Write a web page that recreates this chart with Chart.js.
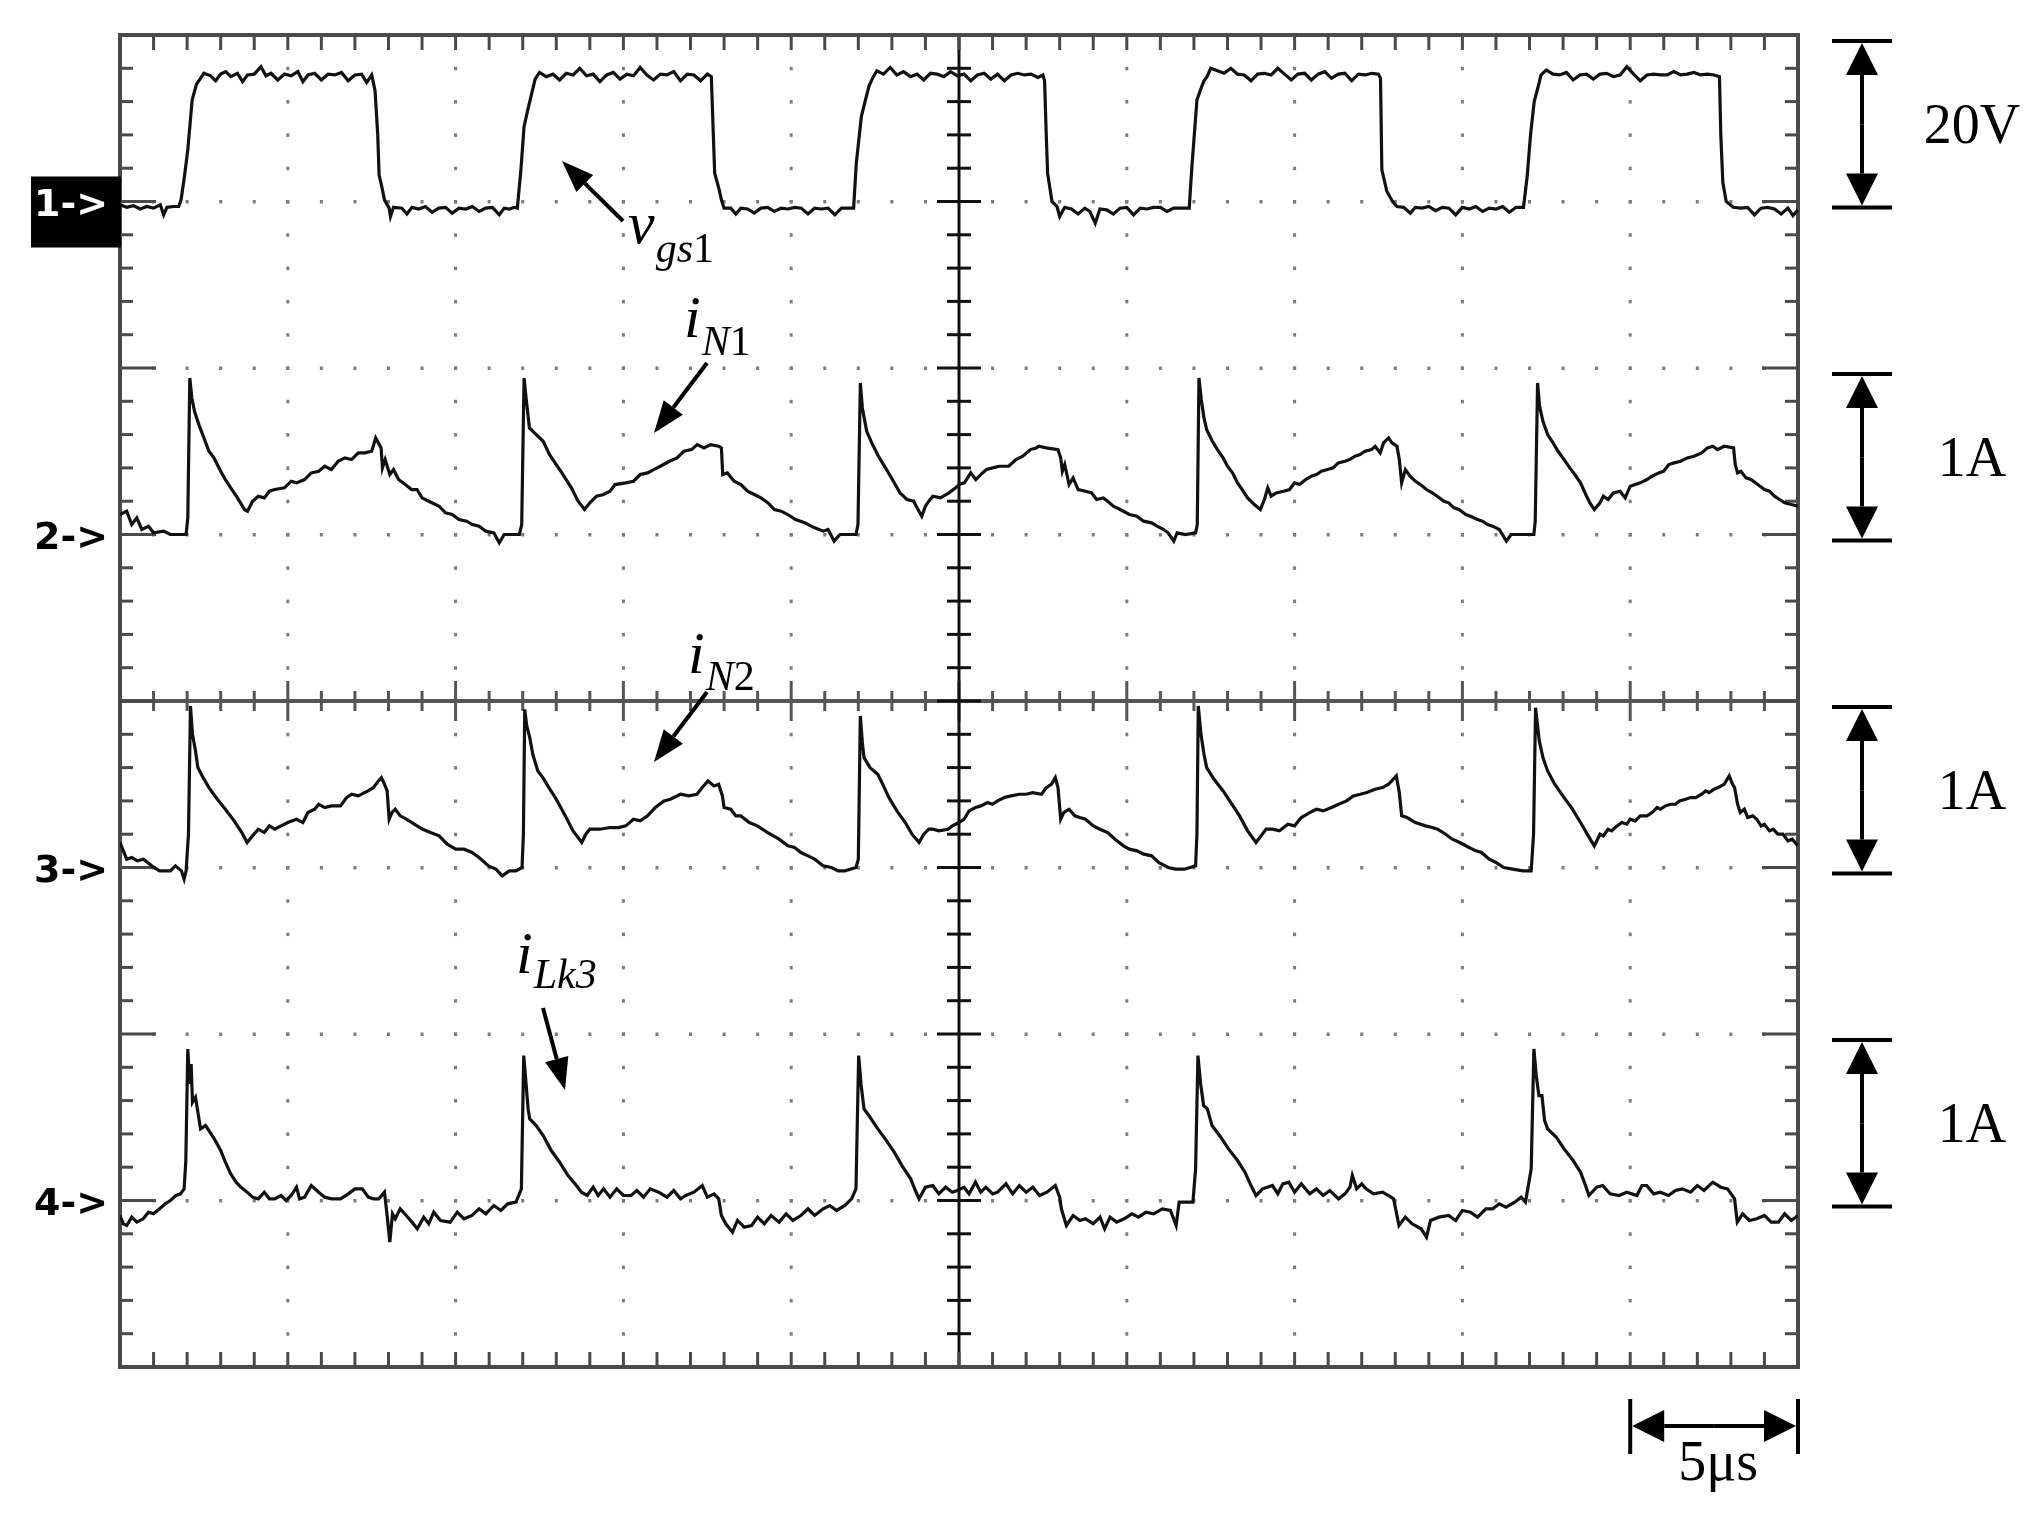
<!DOCTYPE html>
<html><head><meta charset="utf-8">
<script src="https://cdn.jsdelivr.net/npm/chart.js@4/dist/chart.umd.min.js"></script>
<style>html,body{margin:0;padding:0;background:#fff;}#wrap{width:2037px;height:1521px;position:relative;background:#fff}</style>
</head><body><div id="wrap"><canvas id="c" width="2037" height="1521"></canvas></div>
<script>
// time in microseconds (5 us/div, 10 divisions)
const timeTicks = [0,5,10,15,20,25,30,35,40,45,50];
const channelNames = ['1->','2->','3->','4->'];
const channelScales = ['20V','1A','1A','1A'];
const traceLabels = ['v','gs1','i','N1','i','N2','i','Lk3'];

// ch1: v_gs1 [t(us), V]
const ch1 = [
[0,-0.4],[0.2,-0.7],[0.4,-0.5],[0.6,-0.9],[0.8,-0.6],[1.0,-0.8],[1.2,-0.4],[1.3,-1.6],[1.4,-0.7],[1.6,-0.6],[1.75,-0.6],[1.82,0.2],[1.92,3.0],[2.02,6.2],[2.15,12.2],[2.28,14.1],[2.4,14.8],[2.5,15.4],[2.7,15.1],[2.85,14.5],[3.0,15.3],[3.15,15.6],[3.3,15.0],[3.5,15.4],[3.65,14.4],[3.8,15.2],[4.0,15.3],[4.2,16.2],[4.35,15.1],[4.5,15.4],[4.7,14.6],[4.9,15.3],[5.1,15.1],[5.3,15.6],[5.45,14.4],[5.6,15.2],[5.8,15.4],[6.0,14.6],[6.2,15.3],[6.4,15.2],[6.6,15.5],[6.8,14.5],[7.0,15.2],[7.2,15.3],[7.35,14.3],[7.5,15.2],[7.6,13.3],[7.68,8.0],[7.72,3.2],[7.8,1.8],[7.88,0.2],[8.02,-0.8],[8.06,-1.8],[8.15,-0.7],[8.4,-0.8],[8.55,-1.5],[8.7,-0.7],[8.9,-0.9],[9.1,-0.6],[9.3,-1.3],[9.5,-0.8],[9.7,-0.7],[9.9,-1.4],[10.1,-0.8],[10.3,-0.9],[10.5,-0.6],[10.7,-1.2],[10.9,-0.8],[11.1,-0.7],[11.3,-1.6],[11.45,-0.8],[11.6,-0.9],[11.75,-0.7],[11.84,-0.8],[11.95,4.0],[12.04,9.0],[12.15,11.0],[12.24,12.5],[12.37,14.7],[12.5,15.5],[12.7,15.0],[12.9,15.3],[13.1,14.6],[13.3,15.4],[13.5,15.2],[13.7,16.0],[13.9,15.1],[14.1,15.3],[14.3,14.4],[14.5,15.2],[14.7,15.5],[14.9,14.7],[15.1,15.3],[15.3,15.1],[15.5,16.1],[15.7,15.2],[15.9,14.6],[16.1,15.3],[16.3,15.2],[16.5,15.6],[16.7,14.5],[16.9,15.3],[17.1,15.2],[17.3,14.5],[17.5,15.3],[17.62,15.0],[17.68,8.0],[17.72,3.4],[17.85,1.5],[17.92,0.2],[18.0,-0.8],[18.2,-0.8],[18.35,-1.5],[18.5,-0.8],[18.7,-0.9],[18.9,-1.4],[19.1,-0.8],[19.3,-0.7],[19.5,-1.2],[19.7,-0.8],[19.9,-0.9],[20.1,-0.7],[20.3,-0.8],[20.5,-1.5],[20.7,-0.8],[20.9,-0.9],[21.1,-0.8],[21.3,-1.6],[21.5,-0.8],[21.7,-0.8],[21.86,-0.8],[21.94,4.6],[22.09,10.2],[22.2,12.0],[22.32,13.9],[22.45,15.0],[22.55,15.7],[22.75,15.3],[22.95,16.1],[23.15,15.2],[23.35,15.6],[23.55,15.0],[23.75,15.3],[23.95,14.6],[24.15,15.4],[24.35,15.3],[24.55,15.0],[24.75,15.6],[24.95,15.1],[25.15,15.3],[25.35,14.5],[25.55,15.2],[25.75,15.4],[25.95,14.7],[26.15,15.3],[26.35,14.5],[26.55,15.2],[26.75,15.4],[26.95,15.2],[27.15,15.3],[27.35,14.9],[27.5,15.2],[27.55,14.5],[27.6,8.0],[27.64,3.4],[27.77,0.0],[27.92,-0.6],[28.0,-1.8],[28.15,-0.7],[28.35,-0.9],[28.55,-1.5],[28.75,-0.8],[28.9,-1.2],[29.06,-2.6],[29.2,-0.9],[29.4,-1.0],[29.6,-1.5],[29.8,-0.8],[30.0,-0.7],[30.2,-1.6],[30.4,-0.8],[30.6,-0.9],[30.8,-0.7],[31.0,-0.7],[31.2,-1.2],[31.4,-0.8],[31.6,-0.8],[31.86,-0.8],[31.94,4.2],[32.09,12.2],[32.24,13.9],[32.3,14.5],[32.39,15.0],[32.5,16.0],[32.7,15.7],[32.9,15.4],[33.1,16.0],[33.3,15.3],[33.5,15.2],[33.7,14.5],[33.9,15.3],[34.1,15.4],[34.3,15.2],[34.5,16.0],[34.7,15.3],[34.9,14.6],[35.1,15.3],[35.3,15.4],[35.5,14.6],[35.7,15.3],[35.9,15.6],[36.1,14.8],[36.3,15.3],[36.5,15.4],[36.7,14.5],[36.9,15.3],[37.1,15.2],[37.3,15.4],[37.5,15.3],[37.56,14.8],[37.6,3.8],[37.75,1.2],[37.92,0.0],[38.05,-0.6],[38.25,-0.7],[38.45,-1.4],[38.6,-0.7],[38.8,-0.8],[39.0,-0.6],[39.2,-1.1],[39.4,-0.7],[39.6,-0.8],[39.8,-1.6],[40.0,-0.7],[40.2,-0.9],[40.4,-0.6],[40.6,-1.2],[40.8,-0.8],[41.0,-0.9],[41.2,-0.6],[41.4,-1.3],[41.6,-0.7],[41.82,-0.7],[41.93,3.0],[42.03,8.0],[42.14,12.0],[42.29,14.3],[42.34,15.2],[42.5,15.8],[42.7,15.3],[42.9,15.2],[43.1,15.5],[43.3,14.6],[43.5,15.2],[43.7,15.3],[43.9,14.7],[44.1,15.3],[44.3,15.4],[44.5,15.0],[44.7,15.2],[44.9,16.2],[45.1,15.3],[45.3,14.5],[45.5,15.2],[45.7,15.3],[45.9,15.2],[46.1,15.2],[46.3,15.6],[46.5,15.2],[46.7,15.3],[46.9,15.5],[47.1,15.2],[47.3,15.3],[47.5,15.2],[47.66,15.0],[47.7,8.0],[47.76,2.3],[47.86,0.0],[48.07,-0.7],[48.3,-0.8],[48.5,-0.7],[48.7,-1.6],[48.9,-0.8],[49.1,-0.7],[49.3,-0.9],[49.5,-1.5],[49.7,-0.8],[49.85,-1.7],[50,-1.0]
];

// ch2: i_N1 [t(us), A]
const ch2 = [
[0,0.12],[0.2,0.14],[0.35,0.06],[0.5,0.1],[0.65,0.03],[0.85,0.05],[1.0,0.01],[1.3,0.02],[1.5,0],[1.97,0],[2.02,0.1],[2.08,0.94],[2.14,0.82],[2.22,0.74],[2.35,0.66],[2.5,0.58],[2.65,0.5],[2.8,0.46],[3.0,0.38],[3.14,0.33],[3.3,0.28],[3.5,0.22],[3.71,0.15],[3.8,0.14],[3.95,0.2],[4.12,0.23],[4.3,0.22],[4.45,0.26],[4.61,0.27],[4.9,0.28],[5.1,0.32],[5.26,0.31],[5.5,0.33],[5.7,0.37],[5.92,0.38],[6.1,0.41],[6.3,0.39],[6.5,0.44],[6.7,0.46],[6.9,0.45],[7.1,0.49],[7.3,0.49],[7.5,0.5],[7.62,0.58],[7.7,0.55],[7.78,0.52],[7.82,0.4],[7.9,0.45],[8.04,0.36],[8.15,0.39],[8.3,0.33],[8.5,0.3],[8.69,0.27],[8.85,0.27],[9.0,0.22],[9.2,0.2],[9.51,0.17],[9.7,0.13],[9.9,0.12],[10.1,0.09],[10.33,0.08],[10.5,0.06],[10.7,0.05],[10.9,0.02],[11.14,0.01],[11.3,-0.05],[11.45,0.0],[11.9,0.0],[11.97,0.06],[12.04,0.94],[12.1,0.82],[12.2,0.64],[12.35,0.61],[12.61,0.56],[12.8,0.48],[13.0,0.42],[13.2,0.36],[13.45,0.28],[13.65,0.2],[13.84,0.15],[14.0,0.19],[14.2,0.23],[14.41,0.24],[14.6,0.26],[14.75,0.3],[15.07,0.31],[15.3,0.32],[15.5,0.36],[15.72,0.37],[15.9,0.39],[16.1,0.41],[16.37,0.44],[16.6,0.46],[16.8,0.5],[17.03,0.51],[17.2,0.54],[17.4,0.52],[17.6,0.54],[17.84,0.53],[17.92,0.52],[17.96,0.36],[18.1,0.37],[18.3,0.32],[18.5,0.3],[18.7,0.26],[18.9,0.24],[19.1,0.22],[19.31,0.19],[19.5,0.15],[19.7,0.14],[19.9,0.12],[20.13,0.09],[20.4,0.07],[20.7,0.04],[20.95,0.02],[21.1,0.03],[21.28,-0.04],[21.45,0.0],[21.93,0.0],[21.99,0.06],[22.06,0.91],[22.12,0.76],[22.25,0.62],[22.4,0.55],[22.6,0.47],[22.75,0.42],[22.9,0.37],[23.1,0.3],[23.24,0.25],[23.45,0.21],[23.65,0.2],[23.75,0.16],[23.89,0.11],[24.0,0.17],[24.1,0.2],[24.22,0.23],[24.45,0.22],[24.7,0.25],[24.9,0.28],[25.0,0.3],[25.16,0.31],[25.35,0.37],[25.5,0.33],[25.7,0.37],[25.82,0.39],[26.0,0.4],[26.2,0.41],[26.48,0.41],[26.7,0.45],[26.9,0.47],[27.13,0.51],[27.3,0.52],[27.38,0.53],[27.6,0.52],[27.95,0.51],[28.03,0.46],[28.08,0.38],[28.15,0.42],[28.28,0.3],[28.4,0.34],[28.55,0.27],[28.77,0.26],[28.95,0.25],[29.1,0.21],[29.3,0.22],[29.43,0.2],[29.6,0.17],[29.8,0.15],[30.08,0.12],[30.3,0.11],[30.5,0.08],[30.74,0.07],[30.9,0.05],[31.1,0.03],[31.23,0.01],[31.4,-0.04],[31.5,0.01],[31.75,0.0],[32.05,0.01],[32.1,0.06],[32.15,0.94],[32.22,0.81],[32.3,0.7],[32.38,0.63],[32.55,0.56],[32.7,0.51],[32.87,0.46],[33.0,0.41],[33.15,0.37],[33.3,0.31],[33.44,0.27],[33.6,0.22],[33.8,0.18],[33.98,0.15],[34.1,0.21],[34.2,0.28],[34.3,0.23],[34.45,0.25],[34.67,0.26],[34.85,0.27],[35.0,0.31],[35.15,0.3],[35.33,0.33],[35.5,0.35],[35.65,0.36],[35.8,0.38],[35.98,0.39],[36.15,0.4],[36.3,0.43],[36.5,0.44],[36.64,0.45],[36.8,0.47],[36.95,0.48],[37.1,0.5],[37.29,0.51],[37.4,0.53],[37.55,0.49],[37.65,0.55],[37.8,0.58],[37.9,0.55],[38.05,0.53],[38.12,0.45],[38.19,0.31],[38.3,0.39],[38.44,0.35],[38.6,0.32],[38.75,0.3],[38.93,0.27],[39.1,0.25],[39.25,0.23],[39.45,0.2],[39.59,0.19],[39.75,0.16],[39.9,0.15],[40.1,0.12],[40.24,0.11],[40.45,0.09],[40.6,0.08],[40.75,0.06],[40.9,0.05],[41.1,0.03],[41.31,-0.04],[41.45,0.0],[41.8,0.0],[42.13,0.0],[42.17,0.08],[42.24,0.91],[42.3,0.77],[42.4,0.68],[42.54,0.6],[42.7,0.55],[42.85,0.5],[43.03,0.45],[43.2,0.4],[43.35,0.36],[43.52,0.31],[43.7,0.23],[43.8,0.19],[43.93,0.15],[44.1,0.19],[44.2,0.23],[44.34,0.21],[44.5,0.25],[44.7,0.26],[44.85,0.22],[45.0,0.29],[45.15,0.3],[45.3,0.31],[45.5,0.33],[45.65,0.35],[45.85,0.37],[46.0,0.38],[46.15,0.42],[46.31,0.43],[46.5,0.44],[46.7,0.46],[46.9,0.47],[47.13,0.49],[47.3,0.52],[47.46,0.53],[47.6,0.51],[47.8,0.53],[48.08,0.52],[48.13,0.42],[48.2,0.37],[48.3,0.38],[48.45,0.34],[48.6,0.33],[48.8,0.3],[49.0,0.27],[49.15,0.26],[49.3,0.23],[49.45,0.21],[49.6,0.19],[49.8,0.18],[50,0.17]
];

// ch3: i_N2 [t(us), A]
const ch3 = [
[0,0.15],[0.1,0.1],[0.2,0.05],[0.35,0.06],[0.52,0.04],[0.7,0.05],[1.01,0.0],[1.18,-0.02],[1.5,-0.02],[1.65,0.01],[1.83,-0.02],[1.91,-0.07],[1.97,-0.02],[2.04,0.2],[2.1,0.97],[2.16,0.8],[2.25,0.7],[2.32,0.6],[2.45,0.55],[2.65,0.48],[2.9,0.41],[3.14,0.35],[3.4,0.28],[3.63,0.21],[3.79,0.15],[3.95,0.19],[4.12,0.23],[4.3,0.21],[4.45,0.25],[4.61,0.23],[4.8,0.25],[5.0,0.27],[5.26,0.29],[5.45,0.27],[5.6,0.33],[5.8,0.35],[5.92,0.38],[6.1,0.36],[6.3,0.37],[6.57,0.37],[6.75,0.42],[6.9,0.44],[7.1,0.43],[7.39,0.46],[7.55,0.48],[7.7,0.52],[7.79,0.54],[7.88,0.5],[7.96,0.46],[8.02,0.29],[8.1,0.33],[8.2,0.35],[8.35,0.31],[8.53,0.29],[8.7,0.27],[8.85,0.25],[9.02,0.23],[9.25,0.21],[9.51,0.19],[9.75,0.14],[10.0,0.11],[10.25,0.11],[10.49,0.09],[10.7,0.06],[10.98,0.01],[11.2,-0.01],[11.39,-0.05],[11.6,-0.02],[11.8,-0.02],[11.98,0.0],[12.02,0.2],[12.06,0.95],[12.12,0.85],[12.21,0.78],[12.3,0.68],[12.45,0.58],[12.6,0.54],[12.78,0.48],[13.0,0.41],[13.27,0.31],[13.5,0.22],[13.76,0.15],[13.88,0.2],[14.0,0.23],[14.3,0.23],[14.6,0.24],[14.85,0.24],[15.07,0.25],[15.3,0.29],[15.5,0.28],[15.72,0.31],[15.95,0.36],[16.21,0.4],[16.4,0.41],[16.7,0.44],[16.95,0.43],[17.19,0.44],[17.35,0.48],[17.52,0.52],[17.7,0.49],[17.84,0.5],[17.95,0.43],[18.0,0.36],[18.2,0.35],[18.35,0.31],[18.5,0.31],[18.75,0.27],[18.99,0.25],[19.3,0.21],[19.64,0.17],[19.9,0.13],[20.1,0.12],[20.29,0.09],[20.5,0.07],[20.7,0.05],[20.95,0.01],[21.2,0.0],[21.4,-0.02],[21.6,-0.02],[21.93,0.0],[22.0,0.05],[22.06,0.91],[22.12,0.75],[22.17,0.66],[22.35,0.6],[22.58,0.56],[22.75,0.49],[22.91,0.42],[23.15,0.34],[23.4,0.27],[23.6,0.2],[23.81,0.15],[23.95,0.2],[24.1,0.23],[24.22,0.23],[24.4,0.22],[24.67,0.23],[24.8,0.25],[25.0,0.27],[25.15,0.29],[25.3,0.34],[25.49,0.36],[25.65,0.37],[25.85,0.39],[26.0,0.38],[26.15,0.4],[26.35,0.42],[26.55,0.43],[26.8,0.44],[27.0,0.44],[27.2,0.45],[27.46,0.44],[27.6,0.48],[27.75,0.5],[27.87,0.54],[27.95,0.48],[28.03,0.29],[28.12,0.33],[28.28,0.35],[28.45,0.31],[28.6,0.3],[28.77,0.29],[29.0,0.25],[29.2,0.23],[29.43,0.21],[29.65,0.17],[29.9,0.13],[30.08,0.11],[30.3,0.1],[30.5,0.08],[30.74,0.07],[30.95,0.03],[31.23,0.0],[31.45,-0.01],[31.72,-0.01],[32.05,0.01],[32.09,0.2],[32.13,0.97],[32.21,0.8],[32.3,0.68],[32.38,0.6],[32.6,0.53],[32.87,0.46],[33.1,0.39],[33.36,0.31],[33.6,0.22],[33.85,0.15],[34.0,0.19],[34.15,0.23],[34.34,0.23],[34.55,0.22],[34.8,0.26],[35.0,0.25],[35.2,0.3],[35.45,0.33],[35.65,0.35],[35.85,0.34],[36.1,0.36],[36.31,0.38],[36.55,0.4],[36.75,0.43],[36.96,0.44],[37.15,0.45],[37.4,0.47],[37.62,0.48],[37.8,0.5],[38.03,0.55],[38.12,0.45],[38.19,0.31],[38.35,0.3],[38.6,0.27],[38.9,0.25],[39.1,0.24],[39.26,0.23],[39.5,0.2],[39.7,0.17],[39.92,0.15],[40.2,0.12],[40.4,0.1],[40.57,0.09],[40.8,0.05],[41.0,0.03],[41.23,0.0],[41.5,-0.01],[41.8,-0.02],[42.05,-0.02],[42.12,0.2],[42.18,0.96],[42.24,0.85],[42.29,0.76],[42.4,0.66],[42.54,0.58],[42.75,0.5],[43.03,0.42],[43.25,0.36],[43.52,0.27],[43.75,0.19],[43.93,0.13],[44.1,0.2],[44.2,0.19],[44.34,0.23],[44.45,0.22],[44.55,0.24],[44.75,0.27],[44.9,0.26],[45.0,0.29],[45.15,0.28],[45.3,0.31],[45.5,0.31],[45.65,0.33],[45.8,0.36],[45.9,0.35],[46.05,0.37],[46.2,0.38],[46.35,0.38],[46.47,0.4],[46.65,0.41],[46.8,0.42],[46.95,0.42],[47.13,0.44],[47.25,0.46],[47.35,0.45],[47.5,0.47],[47.62,0.48],[47.8,0.5],[47.95,0.55],[48.05,0.5],[48.11,0.48],[48.2,0.38],[48.28,0.33],[48.4,0.35],[48.5,0.3],[48.65,0.31],[48.77,0.29],[48.9,0.25],[49.0,0.26],[49.15,0.22],[49.26,0.23],[49.4,0.2],[49.55,0.2],[49.7,0.16],[49.83,0.17],[50,0.13]
];

// ch4: i_Lk3 [t(us), A]
const ch4 = [
[0,-0.09],[0.1,-0.14],[0.2,-0.15],[0.35,-0.1],[0.5,-0.13],[0.69,-0.11],[0.85,-0.07],[1.0,-0.08],[1.18,-0.05],[1.35,-0.02],[1.5,0.0],[1.67,0.03],[1.8,0.04],[1.91,0.07],[1.96,0.23],[2.02,0.91],[2.08,0.7],[2.12,0.82],[2.16,0.59],[2.25,0.62],[2.4,0.43],[2.55,0.45],[2.81,0.37],[3.0,0.3],[3.14,0.23],[3.3,0.16],[3.46,0.11],[3.6,0.08],[3.79,0.05],[3.95,0.02],[4.12,0.01],[4.3,0.05],[4.45,0.01],[4.61,0.01],[4.8,0.03],[4.95,0.0],[5.1,0.03],[5.26,0.08],[5.35,0.01],[5.5,0.02],[5.7,0.09],[5.92,0.05],[6.1,0.02],[6.3,0.01],[6.57,0.01],[6.8,0.04],[7.0,0.07],[7.22,0.07],[7.4,0.02],[7.55,0.01],[7.71,0.01],[7.88,0.05],[7.96,-0.09],[8.04,-0.25],[8.12,-0.08],[8.2,-0.11],[8.35,-0.05],[8.53,-0.09],[8.7,-0.13],[8.86,-0.17],[9.05,-0.1],[9.2,-0.14],[9.35,-0.07],[9.55,-0.12],[9.84,-0.13],[10.05,-0.07],[10.25,-0.11],[10.49,-0.09],[10.7,-0.05],[10.9,-0.08],[11.14,-0.03],[11.35,-0.06],[11.55,-0.02],[11.8,-0.01],[11.96,0.07],[12.03,0.87],[12.1,0.7],[12.16,0.55],[12.21,0.49],[12.4,0.45],[12.61,0.39],[12.85,0.3],[13.1,0.23],[13.35,0.15],[13.6,0.09],[13.75,0.05],[13.92,0.03],[14.1,0.08],[14.25,0.03],[14.41,0.07],[14.6,0.02],[14.8,0.07],[15.0,0.03],[15.23,0.03],[15.4,0.06],[15.6,0.02],[15.8,0.07],[16.05,0.05],[16.3,0.02],[16.5,0.06],[16.7,0.01],[16.86,0.03],[17.1,0.05],[17.35,0.09],[17.5,0.02],[17.7,0.04],[17.84,0.01],[17.92,-0.09],[18.05,-0.14],[18.25,-0.19],[18.4,-0.12],[18.6,-0.16],[18.82,-0.15],[19.0,-0.1],[19.2,-0.14],[19.4,-0.09],[19.64,-0.13],[19.85,-0.08],[20.05,-0.12],[20.29,-0.09],[20.5,-0.05],[20.7,-0.09],[20.95,-0.05],[21.15,-0.03],[21.35,-0.06],[21.6,-0.03],[21.8,0.01],[21.93,0.07],[22.01,0.87],[22.08,0.7],[22.17,0.55],[22.35,0.5],[22.58,0.43],[22.8,0.37],[23.07,0.29],[23.3,0.21],[23.56,0.13],[23.7,0.06],[23.81,0.01],[24.0,0.08],[24.22,0.09],[24.4,0.04],[24.6,0.08],[24.8,0.05],[24.95,0.06],[25.15,0.08],[25.3,0.04],[25.49,0.11],[25.65,0.05],[25.8,0.08],[26.0,0.04],[26.15,0.05],[26.4,0.1],[26.6,0.04],[26.8,0.09],[27.0,0.05],[27.2,0.08],[27.4,0.03],[27.62,0.05],[27.87,0.09],[28.0,0.02],[28.05,-0.05],[28.2,-0.15],[28.4,-0.09],[28.6,-0.12],[28.77,-0.11],[29.0,-0.14],[29.2,-0.1],[29.34,-0.17],[29.5,-0.1],[29.7,-0.13],[29.92,-0.11],[30.15,-0.08],[30.35,-0.1],[30.57,-0.07],[30.8,-0.08],[31.06,-0.05],[31.3,-0.06],[31.47,-0.15],[31.56,-0.01],[31.97,-0.01],[32.05,0.19],[32.12,0.87],[32.2,0.7],[32.29,0.57],[32.4,0.55],[32.54,0.45],[32.8,0.38],[33.03,0.31],[33.3,0.24],[33.52,0.17],[33.7,0.09],[33.85,0.03],[34.05,0.07],[34.34,0.09],[34.5,0.04],[34.65,0.1],[34.83,0.11],[35.0,0.05],[35.2,0.1],[35.45,0.04],[35.65,0.07],[35.85,0.03],[36.05,0.06],[36.31,0.01],[36.5,0.04],[36.65,0.08],[36.72,0.15],[36.85,0.07],[37.0,0.1],[37.13,0.07],[37.35,0.04],[37.62,0.05],[37.8,0.03],[37.95,0.01],[38.11,-0.15],[38.3,-0.1],[38.5,-0.14],[38.77,-0.17],[38.93,-0.22],[39.05,-0.12],[39.3,-0.1],[39.59,-0.09],[39.8,-0.12],[40.0,-0.06],[40.24,-0.07],[40.45,-0.1],[40.7,-0.05],[40.9,-0.05],[41.1,-0.02],[41.3,-0.04],[41.56,-0.01],[41.75,0.02],[41.88,-0.01],[42.05,0.19],[42.13,0.91],[42.2,0.75],[42.28,0.63],[42.37,0.63],[42.45,0.48],[42.54,0.43],[42.8,0.38],[43.03,0.31],[43.3,0.24],[43.52,0.17],[43.65,0.1],[43.77,0.03],[44.0,0.08],[44.18,0.09],[44.4,0.04],[44.67,0.03],[44.9,0.05],[45.2,0.03],[45.35,0.09],[45.49,0.09],[45.7,0.04],[45.9,0.05],[46.14,0.03],[46.35,0.06],[46.55,0.07],[46.8,0.05],[47.0,0.09],[47.2,0.06],[47.46,0.11],[47.7,0.08],[47.9,0.07],[48.11,0.01],[48.19,-0.13],[48.35,-0.08],[48.55,-0.12],[48.77,-0.11],[49.0,-0.09],[49.2,-0.13],[49.42,-0.13],[49.6,-0.08],[49.8,-0.12],[50,-0.09]
];

const SERIF = "'Liberation Serif', 'Times New Roman', 'DejaVu Serif', serif";

function mk(pairs, axis){
  return {data: pairs.map(p => ({x:p[0], y:p[1]})), yAxisID: axis, borderColor:'#111',
    borderWidth:3.2, pointRadius:0, tension:0, fill:false, borderJoinStyle:'miter'};
}

function line(ctx,x1,y1,x2,y2){ctx.beginPath();ctx.moveTo(x1,y1);ctx.lineTo(x2,y2);ctx.stroke();}
function arrow(ctx,x1,y1,x2,y2,head,hw,lw){
  const a=Math.atan2(y2-y1,x2-x1), bx=x2-head*Math.cos(a), by=y2-head*Math.sin(a);
  ctx.lineWidth=lw; line(ctx,x1,y1,bx,by);
  ctx.beginPath(); ctx.moveTo(x2,y2);
  ctx.lineTo(bx-hw*Math.sin(a), by+hw*Math.cos(a));
  ctx.lineTo(bx+hw*Math.sin(a), by-hw*Math.cos(a));
  ctx.closePath(); ctx.fill();
}

const grat = {
  id:'grat',
  beforeDatasetsDraw(chart){
    const {ctx, chartArea:a, scales} = chart;
    const X = v => scales.x.getPixelForValue(v), Y = v => scales.y4.getPixelForValue(v);
    const L=a.left, R=a.right, T=a.top, B=a.bottom;
    ctx.save();
    ctx.fillStyle='#7c7c7c';
    for(let k=1;k<=9;k++){ if(k===5) continue; const px=X(timeTicks[k]);
      for(let i=1;i<40;i++){ const py=Y(-1+i*0.2); ctx.fillRect(px-1.5,py-1.5,3,3.5);} }
    for(let j=0;j<=6;j++){ if(j===3) continue; const py=Y(j);
      for(let t=1;t<50;t++){ ctx.fillRect(X(t)-1.5,py-1.5,3,3.5);} }
    const cx=X(25), cy=Y(3);
    ctx.strokeStyle='#555'; ctx.lineWidth=4; line(ctx,L,cy,R,cy);
    ctx.lineWidth=3;
    for(let t=1;t<50;t++){ const h = t%5===0?20:10; line(ctx,X(t),cy-h,X(t),cy+h); }
    ctx.strokeStyle='#111'; ctx.lineWidth=3; line(ctx,cx,T,cx,B);
    for(let i=1;i<40;i++){ const py=Y(-1+i*0.2), h=i%5===0?22:12; line(ctx,cx-h,py,cx+h,py); }
    ctx.strokeStyle='#4a4a4a'; ctx.lineWidth=3;
    for(let t=1;t<50;t++){ line(ctx,X(t),T,X(t),T+15); line(ctx,X(t),B,X(t),B-15); }
    for(let i=1;i<40;i++){ const py=Y(-1+i*0.2), l=i%5===0?36:13; line(ctx,L,py,L+l,py); line(ctx,R,py,R-l,py); }
    ctx.lineWidth=4; ctx.strokeRect(L,T,R-L,B-T);
    ctx.restore();
  }
};

const notes = {
  id:'notes',
  afterDatasetsDraw(chart){
    const {ctx, scales:s} = chart;
    ctx.save();
    ctx.fillStyle='#000'; ctx.strokeStyle='#000';
    const axes=[s.y1,s.y2,s.y3,s.y4], unit=[20,1,1,1];
    const g1=s.y1.getPixelForValue(0);
    ctx.fillRect(31,g1-25,90,71);
    ctx.font="bold 38px 'DejaVu Sans'"; ctx.textAlign='right'; ctx.textBaseline='middle';
    for(let c=0;c<4;c++){
      const g=axes[c].getPixelForValue(0);
      ctx.fillStyle = c===0?'#fff':'#000';
      ctx.fillText(channelNames[c],108,g+5);
    }
    ctx.fillStyle='#000';
    const ax=1862;
    ctx.font="56px "+SERIF; ctx.textAlign='center'; ctx.textBaseline='alphabetic';
    for(let c=0;c<4;c++){
      const yb=axes[c].getPixelForValue(0)+6, yt=axes[c].getPixelForValue(unit[c])+6;
      ctx.lineWidth=4; line(ctx,ax-30,yt,ax+30,yt); line(ctx,ax-30,yb,ax+30,yb);
      const m=(yt+yb)/2;
      arrow(ctx,ax,m,ax,yt+2,32,16,4); arrow(ctx,ax,m,ax,yb-2,32,16,4);
      ctx.fillText(channelScales[c],1972,m+19);
    }
    const x1=s.x.getPixelForValue(45), x2=s.x.getPixelForValue(50), ya=1426;
    ctx.lineWidth=4; line(ctx,x1,ya-27,x1,ya+28); line(ctx,x2,ya-27,x2,ya+28);
    const xm=(x1+x2)/2;
    arrow(ctx,xm,ya,x1+2,ya,32,16,4); arrow(ctx,xm,ya,x2-2,ya,32,16,4);
    ctx.fillText('5\u03BCs',xm+4,1480);
    ctx.textAlign='left';
    function lab(main,sub,x,yb,ysb){
      ctx.font="italic 60px "+SERIF; ctx.fillText(main,x,yb);
      const w=ctx.measureText(main).width;
      let sx=x+w+1;
      for(const ch of sub){
        ctx.font=(/[0-9]/.test(ch)&&sub!=='Lk3'?'':'italic ')+"42px "+SERIF;
        ctx.fillText(ch,sx,ysb); sx+=ctx.measureText(ch).width;
      }
    }
    lab(traceLabels[0],traceLabels[1],628,243,262);
    lab(traceLabels[2],traceLabels[3],684,337,355);
    lab(traceLabels[4],traceLabels[5],688,673,690);
    lab(traceLabels[6],traceLabels[7],516,973,988);
    arrow(ctx,623,221,562,161,32,12,4);
    arrow(ctx,707,363,654,433,32,12,4);
    arrow(ctx,707,692,654,762,32,12,4);
    arrow(ctx,543,1008,565,1090,32,12,4);
    ctx.restore();
  }
};

new Chart(document.getElementById('c'), {
  type:'line',
  data:{datasets:[mk(ch1,'y1'),mk(ch2,'y2'),mk(ch3,'y3'),mk(ch4,'y4')]},
  options:{
    responsive:false, animation:false, events:[],
    layout:{padding:{left:120,top:35,right:239,bottom:154}},
    plugins:{legend:{display:false},tooltip:{enabled:false}},
    scales:{
      x:{type:'linear',min:timeTicks[0],max:timeTicks[10],display:false},
      y1:{type:'linear',axis:'y',min:-140,max:20,display:false},
      y2:{type:'linear',axis:'y',min:-5,max:3,display:false},
      y3:{type:'linear',axis:'y',min:-3,max:5,display:false},
      y4:{type:'linear',axis:'y',min:-1,max:7,display:false}
    }
  },
  plugins:[grat,notes]
});
</script></body></html>
